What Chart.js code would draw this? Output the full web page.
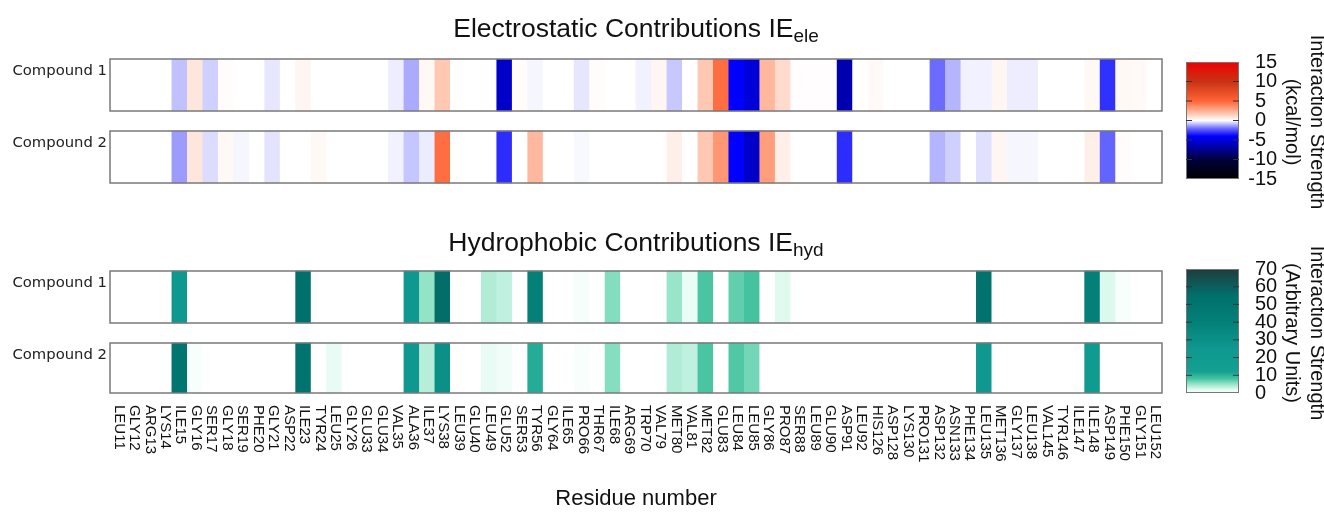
<!DOCTYPE html>
<html><head><meta charset="utf-8">
<script src="https://cdn.jsdelivr.net/npm/chart.js@4.4.1/dist/chart.umd.min.js"></script>
<style>html,body{margin:0;padding:0;background:#fff;}canvas{display:block;}</style>
</head><body>
<canvas id="c" width="1324" height="515"></canvas>
<script>
// ---------------- DATA ----------------
const residues = ['LEU11','GLY12','ARG13','LYS14','ILE15','GLY16','SER17','GLY18','SER19','PHE20',
  'GLY21','ASP22','ILE23','TYR24','LEU25','GLY26','GLU33','GLU34','VAL35','ALA36',
  'ILE37','LYS38','LEU39','GLU40','LEU49','GLU52','SER53','TYR56','GLY64','ILE65',
  'PRO66','THR67','ILE68','ARG69','TRP70','VAL79','MET80','VAL81','MET82','GLU83',
  'LEU84','LEU85','GLY86','PRO87','SER88','LEU89','GLU90','ASP91','LEU92','HIS126',
  'ASP128','LYS130','PRO131','ASP132','ASN133','PHE134','LEU135','MET136','GLY137','LEU138',
  'VAL145','TYR146','ILE147','ILE148','ASP149','PHE150','GLY151','LEU152'];
const compounds = ['Compound 1','Compound 2'];

// Electrostatic interaction strength (kcal/mol)
const eleCompound1 = [0,0,0,0,-0.86,0.77,-0.65,0.1,0,0,
  -0.35,0,0.3,0,0,0,0,0,-0.25,-1.17,
  0.2,1.7,0,0,0.03,-5.7,0.1,-0.12,0,0,
  -0.35,0.1,0,0,-0.2,0.3,-0.76,0,1.7,4.7,
  -4.0,-5.2,2.2,1.1,0.05,0.05,0.05,-6.5,0,0.15,
  0,0,0,-2.05,-1.03,-0.2,-0.2,0.3,-0.25,-0.25,
  0,0,0,0.2,-3.1,0.2,0.15,0];
const eleCompound2 = [0,0,0,0,-1.36,0.77,-0.48,0.2,-0.12,0,
  -0.38,0,0,0.2,0,0,0,0,-0.2,-0.8,
  -0.26,4.7,0,0,0,-3.2,0,2.2,0,0,
  -0.1,0,0,0,0,0,0.5,0,1.7,3.3,
  -4.0,-5.7,3.1,0.5,0,0,0,-3.2,0,0,
  0,0,0,-1.03,-0.65,0,-0.43,0.3,-0.12,-0.12,
  0,0,0,0.5,-2.2,0.1,0,0];
// Hydrophobic interaction strength (arbitrary units)
const hydCompound1 = [0,0,0,0,25,0,0,0,0,0,
  0,0,55,0,0,0,0,0,0,25,
  5.1,56,0,0,3.9,3.3,0,40,0,0,
  0.6,0,5.7,0,0,0,4.9,1.4,7.9,0,
  7.0,8.1,0,2.0,0,0,0,0,0,0,
  0,0,0,0,0,0,53,0,0,0,
  0,0,0,40,2.2,0.5,0,0];
const hydCompound2 = [0,0,0,0,50,0.5,0,0,0,0,
  0,0,52,0,1.5,0,0,0,0,25,
  3.7,30,0,0,1.5,1.0,0,10.7,0,0,
  0.5,0,5.6,0,0,0,3.9,3.3,7.9,0,
  7.6,6.3,0,0,0,0,0,0,0,0,
  0,0,0,0,0,0,25,0,0,0,
  0,0,0,20,0,0,0,0];

const eleTicks = [15,10,5,0,-5,-10,-15];
const hydTicks = [70,60,50,40,30,20,10,0];

// ---------------- COLOUR MAPS ----------------
const eleStops = [[-15,[0,0,0]],[-10,[0,0,60]],[-7,[0,0,160]],[-4,[0,0,255]],[-2,[110,110,255]],
  [0,[255,255,255]],[2,[255,190,165]],[5,[255,100,55]],[10,[200,50,20]],[15,[240,0,0]]];
const hydStops = [[0,[255,255,255]],[2,[224,250,240]],[5,[150,228,200]],[8,[70,196,160]],
  [12,[20,160,145]],[25,[14,152,144]],[40,[4,128,120]],[55,[0,112,108]],[70,[32,60,60]]];
function cmap(stops, v){
  if (v <= stops[0][0]) return rgb(stops[0][1]);
  for (let i=1;i<stops.length;i++){
    if (v <= stops[i][0]){
      const [a,ca]=stops[i-1],[b,cb]=stops[i];
      const t=(v-a)/(b-a);
      return rgb(ca.map((c,k)=>c+(cb[k]-c)*t));
    }
  }
  return rgb(stops[stops.length-1][1]);
}
function rgb(c){return 'rgb('+c.map(x=>Math.round(x)).join(',')+')';}

// ---------------- LAYOUT ----------------
const rowBands = [[0,52],[72,124],[212,264],[284,334]];
const rows = [
  {values: eleCompound1, stops: eleStops, label: compounds[0]},
  {values: eleCompound2, stops: eleStops, label: compounds[1]},
  {values: hydCompound1, stops: hydStops, label: compounds[0]},
  {values: hydCompound2, stops: hydStops, label: compounds[1]}
];
const SANS = '"Liberation Sans", Arial, sans-serif';

const extras = {
  id: 'extras',
  afterDatasetsDraw(chart){
    const ctx = chart.ctx, xs = chart.scales.x, ys = chart.scales.y;
    const L = chart.chartArea.left, R = chart.chartArea.right;
    ctx.save();
    // row frames and labels
    rows.forEach((r,k)=>{
      const y0 = ys.getPixelForValue(rowBands[k][0]), y1 = ys.getPixelForValue(rowBands[k][1]);
      ctx.strokeStyle = '#7a7a7a'; ctx.lineWidth = 1.5;
      ctx.strokeRect(L, y0, R-L, y1-y0);
      ctx.fillStyle = '#222';
      ctx.font = '14.8px "DejaVu Sans", Verdana, sans-serif';
      ctx.textAlign = 'right'; ctx.textBaseline = 'middle';
      ctx.fillText(r.label, L-3, y0+12);
    });
    // x tick labels (rotated clockwise)
    ctx.font = '15px '+SANS; ctx.fillStyle = '#111';
    ctx.textAlign = 'left'; ctx.textBaseline = 'middle';
    const yLab = ys.getPixelForValue(rowBands[3][1]) + 12;
    residues.forEach((lab,i)=>{
      const x = xs.getPixelForValue(i) + 1;
      ctx.save(); ctx.translate(x, yLab); ctx.rotate(Math.PI/2);
      ctx.fillText(lab, 0, 0); ctx.restore();
    });
    // x axis title
    const cx = (L+R)/2;
    ctx.font = '22px '+SANS; ctx.textAlign = 'center'; ctx.textBaseline = 'middle';
    ctx.fillText('Residue number', cx, 499);
    // panel titles with subscript
    function subTitle(main, sub, baseY){
      ctx.textBaseline = 'alphabetic'; ctx.textAlign = 'left'; ctx.fillStyle = '#111';
      ctx.font = '26.5px '+SANS; const w1 = ctx.measureText(main).width;
      ctx.font = '19px '+SANS; const w2 = ctx.measureText(sub).width;
      const x0 = cx - (w1+w2)/2;
      ctx.font = '26.5px '+SANS; ctx.fillText(main, x0, baseY);
      ctx.font = '19px '+SANS; ctx.fillText(sub, x0+w1, baseY+5);
    }
    subTitle('Electrostatic Contributions IE', 'ele', 37);
    subTitle('Hydrophobic Contributions IE', 'hyd', 251);
    // colour bars
    function colorbar(stops, vmin, vmax, ticks, bx, top, bottom, title1, title2, tcy){
      const bw = 53;
      const g = ctx.createLinearGradient(0, top, 0, bottom);
      for (let s=0;s<=120;s++){ const v = vmax-(vmax-vmin)*s/120; g.addColorStop(s/120, cmap(stops, v)); }
      ctx.fillStyle = g; ctx.fillRect(bx, top, bw, bottom-top);
      ctx.strokeStyle = '#777'; ctx.lineWidth = 1; ctx.strokeRect(bx+0.5, top+0.5, bw-1, bottom-top-1);
      ctx.font = '20px '+SANS; ctx.textBaseline = 'middle'; ctx.textAlign = 'left'; ctx.fillStyle = '#111';
      const mw = ctx.measureText('-').width;
      ticks.forEach(v=>{
        const y = bottom - (v-vmin)/(vmax-vmin)*(bottom-top);
        if (v!==vmin && v!==vmax){
          ctx.strokeStyle = '#333'; ctx.lineWidth = 1;
          ctx.beginPath(); ctx.moveTo(bx, y); ctx.lineTo(bx+6, y);
          ctx.moveTo(bx+bw-6, y); ctx.lineTo(bx+bw, y); ctx.stroke();
        }
        const s = String(v);
        ctx.fillText(s, bx+69 - (v<0?mw:0), y);
      });
      ctx.textAlign = 'center';
      [[title1, 1317],[title2, 1292]].forEach(([t,x])=>{
        ctx.save(); ctx.translate(x, tcy); ctx.rotate(Math.PI/2);
        ctx.fillText(t, 0, 0); ctx.restore();
      });
    }
    colorbar(eleStops, -15, 15, eleTicks, 1186, 62, 179, 'Interaction Strength', '(kcal/mol)', 122);
    colorbar(hydStops, 0, 70, hydTicks, 1186, 269, 393, 'Interaction Strength', '(Arbitrary Units)', 333);
    ctx.restore();
  }
};

new Chart(document.getElementById('c'), {
  type: 'bar',
  data: {
    labels: residues,
    datasets: rows.map((r,k)=>({
      data: residues.map(()=>rowBands[k]),
      backgroundColor: r.values.map(v=>cmap(r.stops, v)),
      borderWidth: 0, barPercentage: 1, categoryPercentage: 1, grouped: false
    }))
  },
  options: {
    responsive: false, animation: false,
    layout: {padding: {left:110, right:162, top:59, bottom:122}},
    scales: {
      x: {type:'category', display:false, offset:true},
      y: {type:'linear', display:false, min:0, max:334, reverse:true}
    },
    plugins: {legend:{display:false}, tooltip:{enabled:false}}
  },
  plugins: [extras]
});
</script>
</body></html>
